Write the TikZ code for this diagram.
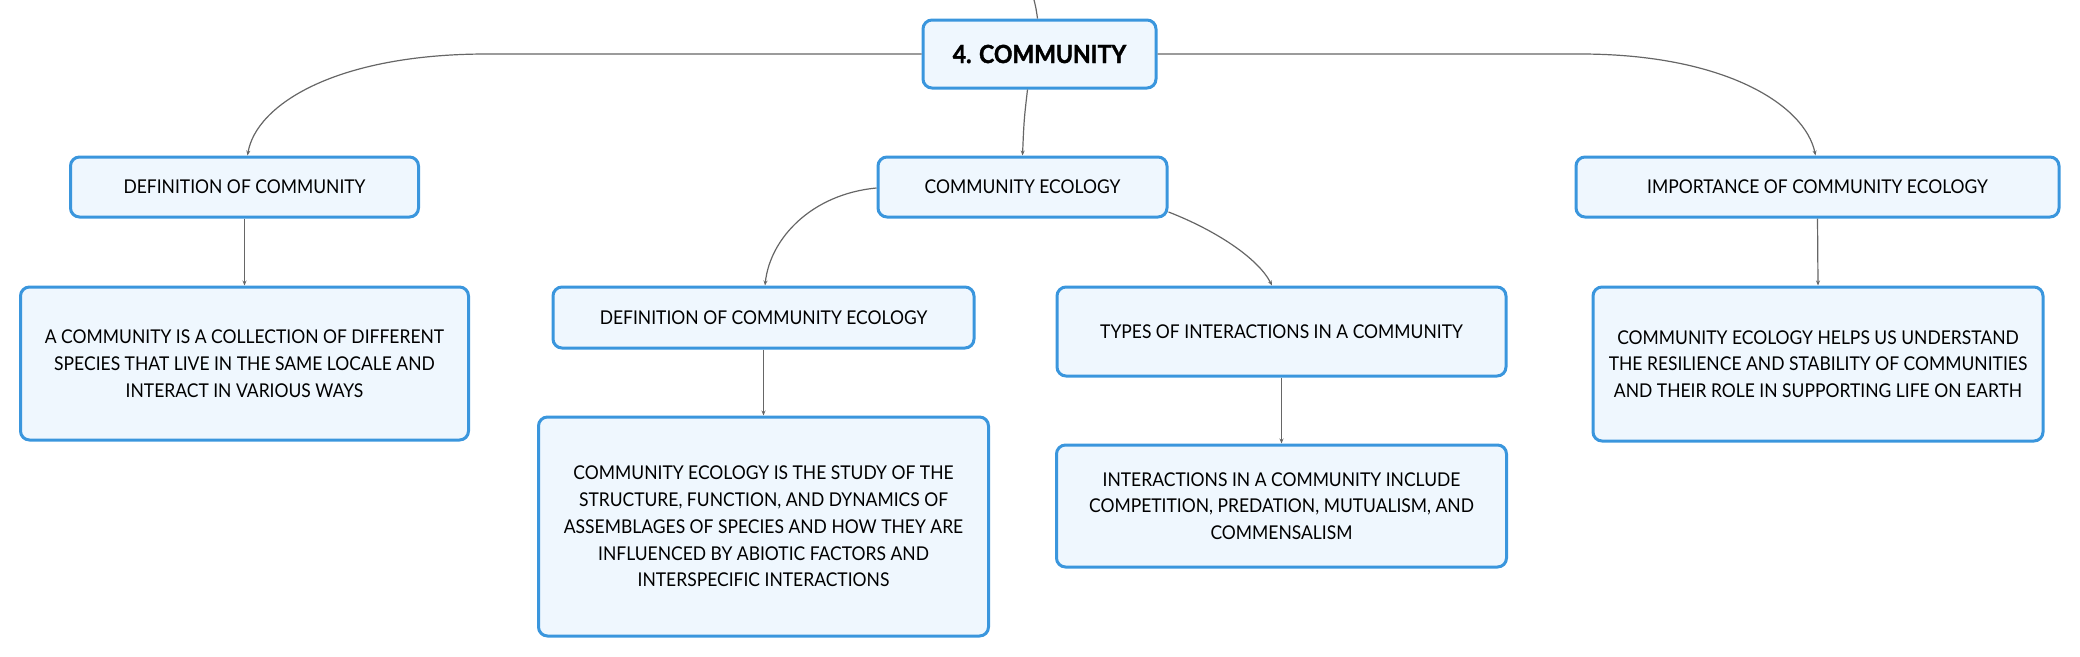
\documentclass[tikz,border=0pt]{standalone}
\usepackage{fontspec}
\setmainfont{Lato}[FakeStretch=0.92]
\newfontfamily\titlefont{Lato}[FakeStretch=0.92, BoldFeatures={FakeBold=1.4}]
\usetikzlibrary{arrows.meta,positioning}
\definecolor{boxborder}{HTML}{3A96DD}
\definecolor{boxfill}{HTML}{EFF7FE}
\definecolor{linkgray}{HTML}{666666}
\tikzset{
  mapbox/.style={draw=boxborder, fill=boxfill, line width=3pt, rounded corners=9pt,
    align=center, inner sep=0pt, text=black,
    font=\fontsize{19}{26.7}\selectfont},
  rootbox/.style={mapbox, font=\titlefont\fontsize{25}{28}\selectfont\bfseries},
  link/.style={draw=linkgray, line width=1.2pt, -{Stealth[length=5pt,width=4pt]}},
  plainlink/.style={draw=linkgray, line width=1.2pt}
}
\begin{document}
\begin{tikzpicture}[x=1pt,y=-1pt]
\useasboundingbox (0,0) rectangle (2080,656);
% nodes
\node[rootbox, minimum width=233pt, minimum height=68pt] (root) at (1039.5,54) {4. COMMUNITY};
\node[mapbox, minimum width=289pt, minimum height=60pt] (ce) at (1022.5,187) {COMMUNITY ECOLOGY};
\node[mapbox, minimum width=348pt, minimum height=60pt] (dc) at (244.5,187) {DEFINITION OF COMMUNITY};
\node[mapbox, minimum width=448pt, minimum height=153pt] (dcchild) at (244.5,363.5)
  {A COMMUNITY IS A COLLECTION OF DIFFERENT\\SPECIES THAT LIVE IN THE SAME LOCALE AND\\INTERACT IN VARIOUS WAYS};
\node[mapbox, minimum width=421pt, minimum height=61pt] (dce) at (763.5,317.5) {DEFINITION OF COMMUNITY ECOLOGY};
\node[mapbox, minimum width=450pt, minimum height=219pt] (dcechild) at (763.5,526.5)
  {COMMUNITY ECOLOGY IS THE STUDY OF THE\\STRUCTURE, FUNCTION, AND DYNAMICS OF\\ASSEMBLAGES OF SPECIES AND HOW THEY ARE\\INFLUENCED BY ABIOTIC FACTORS AND\\INTERSPECIFIC INTERACTIONS};
\node[mapbox, minimum width=449pt, minimum height=89pt] (types) at (1281.5,331.5) {TYPES OF INTERACTIONS IN A COMMUNITY};
\node[mapbox, minimum width=450pt, minimum height=122pt] (typeschild) at (1281.5,506)
  {INTERACTIONS IN A COMMUNITY INCLUDE\\COMPETITION, PREDATION, MUTUALISM, AND\\COMMENSALISM};
\node[mapbox, minimum width=483pt, minimum height=60pt] (imp) at (1817.5,187) {IMPORTANCE OF COMMUNITY ECOLOGY};
\node[mapbox, minimum width=450pt, minimum height=154pt] (impchild) at (1818,364)
  {COMMUNITY ECOLOGY HELPS US UNDERSTAND\\THE RESILIENCE AND STABILITY OF COMMUNITIES\\AND THEIR ROLE IN SUPPORTING LIFE ON EARTH};
% connectors
\coordinate (topin) at (1034,0);
\draw[plainlink] (topin) .. controls (1036,8) .. ([xshift=-2pt]root.north);
\draw[link] ([xshift=-12pt]root.south) .. controls (1024,120) .. (ce.north);
\coordinate (lbend) at (487,54);
\draw[link] (root.west) -- (lbend) .. controls (335,54) and (256,105) .. ([xshift=3pt]dc.north);
\coordinate (rbend) at (1580,54);
\draw[link] (root.east) -- (rbend) .. controls (1725,54) and (1805,105) .. ([xshift=-2pt]imp.north);
\draw[link] ([yshift=-1pt]ce.west) .. controls (812,194) and (770,238) .. ([xshift=1.5pt]dce.north);
\draw[link] ([yshift=-25pt]ce.east) .. controls (1215,230) and (1258,258) .. ([xshift=-9.5pt]types.north);
\draw[link] (dc.south) -- (dcchild.north);
\draw[link] (dce.south) -- (dcechild.north);
\draw[link] (types.south) -- (typeschild.north);
\draw[link] (imp.south) -- (impchild.north);
\end{tikzpicture}
\end{document}
